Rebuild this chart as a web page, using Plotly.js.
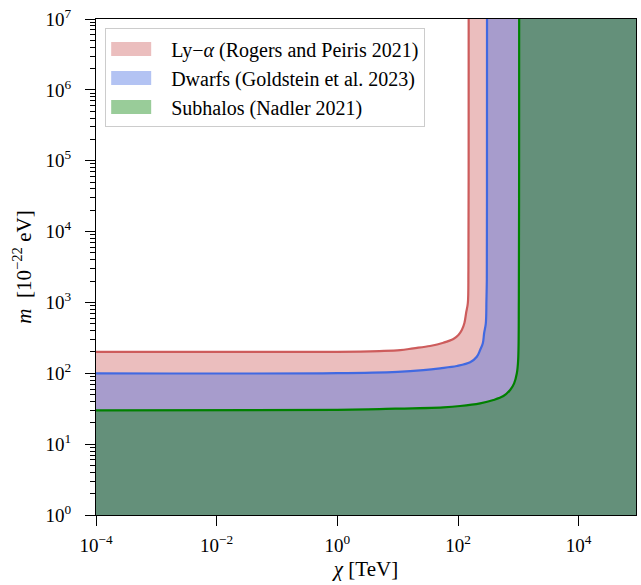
<!DOCTYPE html>
<html>
<head>
<meta charset="utf-8">
<script src="https://cdn.plot.ly/plotly-3.0.1.min.js"></script>
<style>html,body{margin:0;padding:0;background:#fff}#plot{width:641px;height:585px}</style>
</head>
<body>
<div id="plot"></div>
<script>
// Ly-alpha (Rogers and Peiris 2021) boundary
const lyaChi = [1e-4, 1, 5, 11, 18.2, 34.4, 57.3, 83.9, 101.6, 115.6, 127.7, 136.2, 145.5, 148.7, 150, 150.2];
const lyaM   = [200, 201, 206, 212, 225, 243, 270, 305, 347, 408, 513, 709, 981, 2870, 1e5, 2e7];
// Dwarfs (Goldstein et al. 2023) boundary
const dwChi = [1e-4, 1, 10, 26.7, 50.5, 95.5, 158.8, 205, 232.6, 257.8, 270.9, 289, 296, 300.4, 302, 302.5];
const dwM   = [100, 100.5, 105, 111, 117.6, 126.7, 142.9, 171, 213, 265, 367, 508, 1082, 2070, 1e5, 2e7];
// Subhalos (Nadler 2021) boundary
const shChi = [1e-4, 1, 5, 57.3, 108.4, 232.6, 386.5, 566, 731, 851, 944, 993, 1019, 1030, 1032];
const shM   = [30, 30.4, 31.3, 33.1, 34.5, 37.7, 42, 47.8, 58.1, 72.2, 100, 154, 1082, 1e5, 2e7];

const names = ['Ly\u2212<i>α</i> (Rogers and Peiris 2021)', 'Dwarfs (Goldstein et al. 2023)', 'Subhalos (Nadler 2021)'];
const lineColors = ['rgb(205,92,92)', 'rgb(65,105,225)', 'rgb(0,128,0)'];
const fillColors = ['rgba(205,92,92,0.4)', 'rgba(65,105,225,0.4)', 'rgba(0,128,0,0.4)'];

// tick labels
const xTickVals = [1e-4, 1e-2, 1e0, 1e2, 1e4];
const xTickText = ['10<sup>\u22124</sup>', '10<sup>\u22122</sup>', '10<sup>0</sup>', '10<sup>2</sup>', '10<sup>4</sup>'];
const yTickVals = [1e0, 1e1, 1e2, 1e3, 1e4, 1e5, 1e6, 1e7];
const yTickText = ['10<sup>0</sup>', '10<sup>1</sup>', '10<sup>2</sup>', '10<sup>3</sup>', '10<sup>4</sup>', '10<sup>5</sup>', '10<sup>6</sup>', '10<sup>7</sup>'];

const curves = [[lyaChi, lyaM], [dwChi, dwM], [shChi, shM]];

const traces = [];
curves.forEach((c, i) => {
  const xs = c[0], ys = c[1];
  const last = xs.length - 1;
  // close the region below/right of the curve, far outside the axes
  const fx = [1e-6].concat(xs, [xs[last], 1e8, 1e8, 1e-6]);
  const fy = [ys[0]].concat(ys, [1e9, 1e9, 1e-3, 1e-3]);
  traces.push({x: fx, y: fy, type: 'scatter', mode: 'lines', fill: 'toself',
    fillcolor: fillColors[i], line: {width: 0, color: fillColors[i], shape: 'spline', smoothing: 1},
    name: names[i], hoverinfo: 'skip'});
});
curves.forEach((c, i) => {
  traces.push({x: c[0], y: c[1], type: 'scatter', mode: 'lines',
    line: {width: 2.2, color: lineColors[i], shape: 'spline', smoothing: 1}, showlegend: false});
});

const minorY = [];
for (let k = 0; k < 7; k++) for (let d = 2; d <= 9; d++) minorY.push(d * Math.pow(10, k));

const fontFam = '"Liberation Serif", "DejaVu Serif", serif';
const layout = {
  width: 641, height: 585,
  margin: {l: 96, r: 5, t: 19, b: 70},
  paper_bgcolor: '#fff', plot_bgcolor: '#fff',
  font: {family: fontFam, size: 18, color: '#000'},
  showlegend: true,
  legend: {x: 0.017, y: 0.981, xanchor: 'left', yanchor: 'top', bgcolor: 'rgba(255,255,255,0.8)',
    bordercolor: '#ccc', borderwidth: 1, font: {family: fontFam, size: 20}, itemwidth: 55, tracegroupgap: 0},
  xaxis: {type: 'log', range: [-4, 4.95], tickmode: 'array', tickvals: xTickVals, ticktext: xTickText,
    showgrid: false, zeroline: false,
    showline: true, mirror: true, linecolor: '#000', linewidth: 1, ticks: 'outside', ticklen: 10, tickcolor: '#000',
    ticklabelstandoff: 3,
    tickfont: {family: fontFam, size: 19},
    title: {text: '<i>χ</i> [TeV]', font: {family: fontFam, size: 21}, standoff: 6}},
  yaxis: {type: 'log', range: [0, 7], tickmode: 'array', tickvals: yTickVals, ticktext: yTickText,
    showgrid: false, zeroline: false,
    showline: true, mirror: true, linecolor: '#000', linewidth: 1, ticks: 'outside', ticklen: 10, tickcolor: '#000',
    ticklabelstandoff: 10,
    tickfont: {family: fontFam, size: 19},
    minor: {tickmode: 'array', tickvals: minorY, ticks: 'outside', ticklen: 5, tickcolor: '#000', showgrid: false},
    title: {text: '<i>m</i>  [10<sup>\u221222</sup> eV]', font: {family: fontFam, size: 21}, standoff: 8}}
};
Plotly.newPlot('plot', traces, layout, {displayModeBar: false, staticPlot: true}).then(gd => {
  // matplotlib-style rectangular legend patches
  gd.querySelectorAll('.legend .traces').forEach(t => {
    t.querySelectorAll('.legendfill path').forEach(p => p.setAttribute('d', 'M5,-7h40v14h-40z'));
    t.querySelectorAll('.legendlines path').forEach(p => p.setAttribute('d', 'M0,0'));
  });
});
</script>
</body>
</html>
